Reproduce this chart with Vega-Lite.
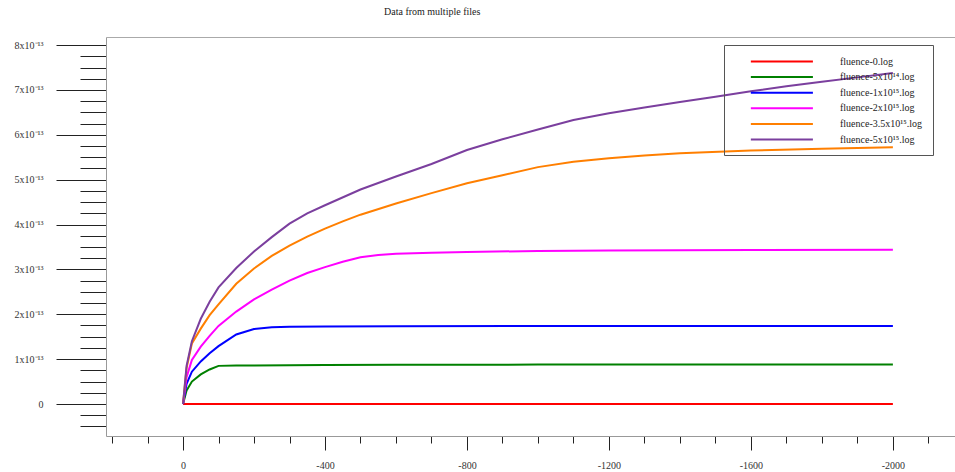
{
  "$schema": "https://vega.github.io/schema/vega-lite/v6.json",
  "width": 849,
  "height": 399,
  "autosize": {"type": "none"},
  "padding": {"left": 106, "top": 37, "right": 0, "bottom": 36},
  "background": "white",
  "config": {
    "view": {"stroke": null},
    "font": "Liberation Serif",
    "axis": {"grid": false, "labelFont": "Liberation Serif", "labelFontSize": 10, "labelColor": "#333", "domainColor": "#999", "tickColor": "#222", "title": null}
  },
  "title": {"text": "Data from multiple files", "anchor": "start", "frame": "group", "dx": 278, "offset": 20, "fontSize": 10, "fontWeight": "normal", "font": "Liberation Serif", "color": "#222"},
  "data": {"values": [
    {"x": 0, "y": 0, "s": "fluence-0.log"},
    {"x": -50, "y": 0, "s": "fluence-0.log"},
    {"x": -500, "y": 0, "s": "fluence-0.log"},
    {"x": -1000, "y": 0, "s": "fluence-0.log"},
    {"x": -1500, "y": 0, "s": "fluence-0.log"},
    {"x": -2000, "y": 0, "s": "fluence-0.log"},

    {"x": 0, "y": 0, "s": "fluence-5x10¹⁴.log"},
    {"x": -10, "y": 0.30e-13, "s": "fluence-5x10¹⁴.log"},
    {"x": -25, "y": 0.50e-13, "s": "fluence-5x10¹⁴.log"},
    {"x": -50, "y": 0.66e-13, "s": "fluence-5x10¹⁴.log"},
    {"x": -75, "y": 0.77e-13, "s": "fluence-5x10¹⁴.log"},
    {"x": -100, "y": 0.85e-13, "s": "fluence-5x10¹⁴.log"},
    {"x": -150, "y": 0.86e-13, "s": "fluence-5x10¹⁴.log"},
    {"x": -200, "y": 0.86e-13, "s": "fluence-5x10¹⁴.log"},
    {"x": -300, "y": 0.865e-13, "s": "fluence-5x10¹⁴.log"},
    {"x": -400, "y": 0.87e-13, "s": "fluence-5x10¹⁴.log"},
    {"x": -600, "y": 0.875e-13, "s": "fluence-5x10¹⁴.log"},
    {"x": -1000, "y": 0.878e-13, "s": "fluence-5x10¹⁴.log"},
    {"x": -1500, "y": 0.88e-13, "s": "fluence-5x10¹⁴.log"},
    {"x": -2000, "y": 0.88e-13, "s": "fluence-5x10¹⁴.log"},

    {"x": 0, "y": 0, "s": "fluence-1x10¹⁵.log"},
    {"x": -10, "y": 0.45e-13, "s": "fluence-1x10¹⁵.log"},
    {"x": -25, "y": 0.72e-13, "s": "fluence-1x10¹⁵.log"},
    {"x": -50, "y": 0.95e-13, "s": "fluence-1x10¹⁵.log"},
    {"x": -75, "y": 1.13e-13, "s": "fluence-1x10¹⁵.log"},
    {"x": -100, "y": 1.29e-13, "s": "fluence-1x10¹⁵.log"},
    {"x": -150, "y": 1.55e-13, "s": "fluence-1x10¹⁵.log"},
    {"x": -200, "y": 1.67e-13, "s": "fluence-1x10¹⁵.log"},
    {"x": -250, "y": 1.71e-13, "s": "fluence-1x10¹⁵.log"},
    {"x": -300, "y": 1.72e-13, "s": "fluence-1x10¹⁵.log"},
    {"x": -400, "y": 1.73e-13, "s": "fluence-1x10¹⁵.log"},
    {"x": -600, "y": 1.735e-13, "s": "fluence-1x10¹⁵.log"},
    {"x": -1000, "y": 1.74e-13, "s": "fluence-1x10¹⁵.log"},
    {"x": -1500, "y": 1.74e-13, "s": "fluence-1x10¹⁵.log"},
    {"x": -2000, "y": 1.74e-13, "s": "fluence-1x10¹⁵.log"},

    {"x": 0, "y": 0, "s": "fluence-2x10¹⁵.log"},
    {"x": -10, "y": 0.60e-13, "s": "fluence-2x10¹⁵.log"},
    {"x": -25, "y": 0.98e-13, "s": "fluence-2x10¹⁵.log"},
    {"x": -50, "y": 1.28e-13, "s": "fluence-2x10¹⁵.log"},
    {"x": -75, "y": 1.52e-13, "s": "fluence-2x10¹⁵.log"},
    {"x": -100, "y": 1.74e-13, "s": "fluence-2x10¹⁵.log"},
    {"x": -150, "y": 2.06e-13, "s": "fluence-2x10¹⁵.log"},
    {"x": -200, "y": 2.33e-13, "s": "fluence-2x10¹⁵.log"},
    {"x": -250, "y": 2.55e-13, "s": "fluence-2x10¹⁵.log"},
    {"x": -300, "y": 2.75e-13, "s": "fluence-2x10¹⁵.log"},
    {"x": -350, "y": 2.92e-13, "s": "fluence-2x10¹⁵.log"},
    {"x": -400, "y": 3.05e-13, "s": "fluence-2x10¹⁵.log"},
    {"x": -450, "y": 3.17e-13, "s": "fluence-2x10¹⁵.log"},
    {"x": -500, "y": 3.27e-13, "s": "fluence-2x10¹⁵.log"},
    {"x": -550, "y": 3.32e-13, "s": "fluence-2x10¹⁵.log"},
    {"x": -600, "y": 3.35e-13, "s": "fluence-2x10¹⁵.log"},
    {"x": -700, "y": 3.37e-13, "s": "fluence-2x10¹⁵.log"},
    {"x": -800, "y": 3.39e-13, "s": "fluence-2x10¹⁵.log"},
    {"x": -1000, "y": 3.41e-13, "s": "fluence-2x10¹⁵.log"},
    {"x": -1200, "y": 3.42e-13, "s": "fluence-2x10¹⁵.log"},
    {"x": -1600, "y": 3.43e-13, "s": "fluence-2x10¹⁵.log"},
    {"x": -2000, "y": 3.44e-13, "s": "fluence-2x10¹⁵.log"},

    {"x": 0, "y": 0, "s": "fluence-3.5x10¹⁵.log"},
    {"x": -10, "y": 0.80e-13, "s": "fluence-3.5x10¹⁵.log"},
    {"x": -25, "y": 1.35e-13, "s": "fluence-3.5x10¹⁵.log"},
    {"x": -50, "y": 1.68e-13, "s": "fluence-3.5x10¹⁵.log"},
    {"x": -75, "y": 1.98e-13, "s": "fluence-3.5x10¹⁵.log"},
    {"x": -100, "y": 2.22e-13, "s": "fluence-3.5x10¹⁵.log"},
    {"x": -150, "y": 2.68e-13, "s": "fluence-3.5x10¹⁵.log"},
    {"x": -200, "y": 3.02e-13, "s": "fluence-3.5x10¹⁵.log"},
    {"x": -250, "y": 3.30e-13, "s": "fluence-3.5x10¹⁵.log"},
    {"x": -300, "y": 3.53e-13, "s": "fluence-3.5x10¹⁵.log"},
    {"x": -350, "y": 3.73e-13, "s": "fluence-3.5x10¹⁵.log"},
    {"x": -400, "y": 3.91e-13, "s": "fluence-3.5x10¹⁵.log"},
    {"x": -450, "y": 4.07e-13, "s": "fluence-3.5x10¹⁵.log"},
    {"x": -500, "y": 4.22e-13, "s": "fluence-3.5x10¹⁵.log"},
    {"x": -600, "y": 4.47e-13, "s": "fluence-3.5x10¹⁵.log"},
    {"x": -700, "y": 4.70e-13, "s": "fluence-3.5x10¹⁵.log"},
    {"x": -800, "y": 4.92e-13, "s": "fluence-3.5x10¹⁵.log"},
    {"x": -900, "y": 5.10e-13, "s": "fluence-3.5x10¹⁵.log"},
    {"x": -1000, "y": 5.28e-13, "s": "fluence-3.5x10¹⁵.log"},
    {"x": -1100, "y": 5.40e-13, "s": "fluence-3.5x10¹⁵.log"},
    {"x": -1200, "y": 5.48e-13, "s": "fluence-3.5x10¹⁵.log"},
    {"x": -1300, "y": 5.54e-13, "s": "fluence-3.5x10¹⁵.log"},
    {"x": -1400, "y": 5.59e-13, "s": "fluence-3.5x10¹⁵.log"},
    {"x": -1600, "y": 5.65e-13, "s": "fluence-3.5x10¹⁵.log"},
    {"x": -1800, "y": 5.69e-13, "s": "fluence-3.5x10¹⁵.log"},
    {"x": -2000, "y": 5.72e-13, "s": "fluence-3.5x10¹⁵.log"},

    {"x": 0, "y": 0, "s": "fluence-5x10¹⁵.log"},
    {"x": -10, "y": 0.85e-13, "s": "fluence-5x10¹⁵.log"},
    {"x": -25, "y": 1.40e-13, "s": "fluence-5x10¹⁵.log"},
    {"x": -50, "y": 1.90e-13, "s": "fluence-5x10¹⁵.log"},
    {"x": -75, "y": 2.28e-13, "s": "fluence-5x10¹⁵.log"},
    {"x": -100, "y": 2.60e-13, "s": "fluence-5x10¹⁵.log"},
    {"x": -150, "y": 3.03e-13, "s": "fluence-5x10¹⁵.log"},
    {"x": -200, "y": 3.40e-13, "s": "fluence-5x10¹⁵.log"},
    {"x": -250, "y": 3.72e-13, "s": "fluence-5x10¹⁵.log"},
    {"x": -300, "y": 4.02e-13, "s": "fluence-5x10¹⁵.log"},
    {"x": -350, "y": 4.25e-13, "s": "fluence-5x10¹⁵.log"},
    {"x": -400, "y": 4.43e-13, "s": "fluence-5x10¹⁵.log"},
    {"x": -500, "y": 4.78e-13, "s": "fluence-5x10¹⁵.log"},
    {"x": -600, "y": 5.07e-13, "s": "fluence-5x10¹⁵.log"},
    {"x": -700, "y": 5.35e-13, "s": "fluence-5x10¹⁵.log"},
    {"x": -800, "y": 5.66e-13, "s": "fluence-5x10¹⁵.log"},
    {"x": -900, "y": 5.90e-13, "s": "fluence-5x10¹⁵.log"},
    {"x": -1000, "y": 6.12e-13, "s": "fluence-5x10¹⁵.log"},
    {"x": -1100, "y": 6.33e-13, "s": "fluence-5x10¹⁵.log"},
    {"x": -1200, "y": 6.48e-13, "s": "fluence-5x10¹⁵.log"},
    {"x": -1300, "y": 6.61e-13, "s": "fluence-5x10¹⁵.log"},
    {"x": -1400, "y": 6.73e-13, "s": "fluence-5x10¹⁵.log"},
    {"x": -1500, "y": 6.85e-13, "s": "fluence-5x10¹⁵.log"},
    {"x": -1600, "y": 6.97e-13, "s": "fluence-5x10¹⁵.log"},
    {"x": -1700, "y": 7.08e-13, "s": "fluence-5x10¹⁵.log"},
    {"x": -1800, "y": 7.18e-13, "s": "fluence-5x10¹⁵.log"},
    {"x": -1900, "y": 7.28e-13, "s": "fluence-5x10¹⁵.log"},
    {"x": -2000, "y": 7.38e-13, "s": "fluence-5x10¹⁵.log"}
  ]},
  "layer": [
    {
      "mark": {"type": "point", "opacity": 0},
      "encoding": {
        "x": {"field": "x", "type": "quantitative", "scale": {"domain": [217, -2175], "nice": false, "zero": false},
              "axis": {"orient": "top", "ticks": false, "labels": false, "domainColor": "#aaa"}},
        "y": {"field": "y", "type": "quantitative", "scale": {"domain": [-0.713e-13, 8.18e-13], "nice": false, "zero": false}, "axis": null}
      }
    },
    {
      "mark": {"type": "line", "strokeWidth": 2, "clip": true},
      "encoding": {
        "x": {"field": "x", "type": "quantitative", "scale": {"domain": [217, -2175], "nice": false, "zero": false},
              "axis": {
                "orient": "bottom",
                "values": [200, 100, 0, -100, -200, -300, -400, -500, -600, -700, -800, -900, -1000, -1100, -1200, -1300, -1400, -1500, -1600, -1700, -1800, -1900, -2000, -2100],
                "tickSize": {"condition": {"test": "datum.value % 400 == 0", "value": 14}, "value": 7},
                "labelExpr": "datum.value % 400 == 0 ? '' + datum.value : ''",
                "labelPadding": 10,
                "labelFlush": false,
                "labelOverlap": false
              }},
        "y": {"field": "y", "type": "quantitative", "scale": {"domain": [-0.713e-13, 8.18e-13], "nice": false, "zero": false},
              "axis": {
                "orient": "left",
                "values": [-0.5e-13, -0.25e-13, 0, 0.25e-13, 0.5e-13, 0.75e-13, 1e-13, 1.25e-13, 1.5e-13, 1.75e-13, 2e-13, 2.25e-13, 2.5e-13, 2.75e-13, 3e-13, 3.25e-13, 3.5e-13, 3.75e-13, 4e-13, 4.25e-13, 4.5e-13, 4.75e-13, 5e-13, 5.25e-13, 5.5e-13, 5.75e-13, 6e-13, 6.25e-13, 6.5e-13, 6.75e-13, 7e-13, 7.25e-13, 7.5e-13, 7.75e-13, 8e-13],
                "tickSize": {"condition": {"test": "abs(datum.value*1e13 - round(datum.value*1e13)) < 0.01", "value": 50}, "value": 26},
                "labelExpr": "abs(datum.value*1e13 - round(datum.value*1e13)) < 0.01 && datum.value > -1e-14 ? (round(datum.value*1e13) == 0 ? '0' : round(datum.value*1e13) + 'x10⁻¹³') : ''",
                "labelPadding": 13,
                "labelOverlap": false,
                "labelFlush": false
              }},
        "color": {"field": "s", "type": "nominal",
          "scale": {"domain": ["fluence-0.log", "fluence-5x10¹⁴.log", "fluence-1x10¹⁵.log", "fluence-2x10¹⁵.log", "fluence-3.5x10¹⁵.log", "fluence-5x10¹⁵.log"],
                    "range": ["#ff0000", "#008000", "#0000ff", "#ff00ff", "#ff7f00", "#7b3f9e"]},
          "legend": {"orient": "none", "legendX": 618, "legendY": 8, "title": null, "symbolType": "M2,0H14", "symbolSize": 107, "symbolStrokeWidth": 2,
                     "labelFont": "Liberation Serif", "labelFontSize": 10, "labelColor": "#222", "labelOffset": 93,
                     "strokeColor": "#555", "padding": 10, "rowPadding": 3.6, "fillColor": null}}
      }
    }
  ],
  "resolve": {"axis": {"x": "independent", "y": "independent"}}
}
